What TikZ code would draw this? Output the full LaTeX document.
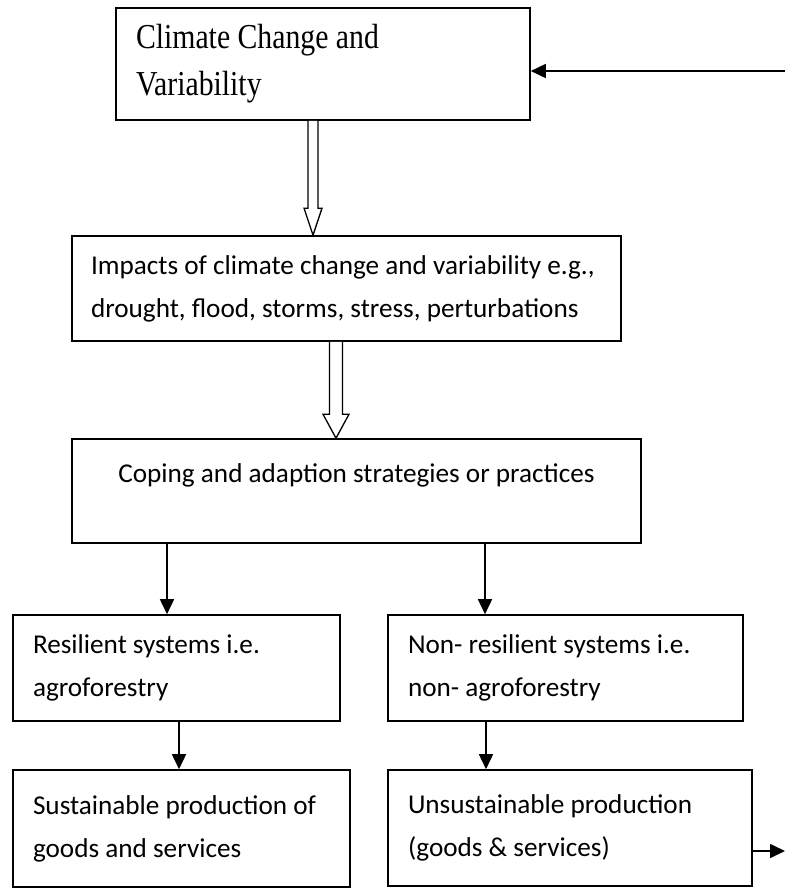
\documentclass[tikz,border=0pt]{standalone}
\usepackage{fontspec}
\setmainfont{Carlito}
\newfontfamily\climfont[FakeStretch=0.85]{Liberation Serif}
\usetikzlibrary{arrows.meta,calc}

\begin{document}
\begin{tikzpicture}[x=1pt,y=-1pt,line width=1.6pt,
        box/.style={draw,rectangle,align=flush left,inner xsep=20pt,inner ysep=0pt,font=\fontsize{27.2}{43}\selectfont},
        arr/.style={-{Triangle[width=14pt,length=15pt]},line width=1.6pt},
        hollow/.style={draw,line width=1.3pt,fill=white}]

      \fill[white] (0,0) rectangle (785,889);
      \useasboundingbox (0,0) rectangle (785,889);

      \node[box,font=\climfont\fontsize{35}{47}\selectfont,text width=374pt,minimum height=112pt] (1) at (323,64) {Climate Change and\\Variability};
      \node[box,inner xsep=19pt,text width=511pt,minimum height=105pt] (2) at (346.5,288.5) {Impacts of climate change and variability e.g.,\\drought, flood, storms, stress, perturbations};
      \node[box,align=flush center,text width=529pt,text height=20pt,text depth=38pt,inner ysep=23pt] (3) at (356.5,491) {Coping and adaption strategies or practices};
      \node[box,text width=287pt,minimum height=106pt] (4) at (176.5,668) {Resilient systems i.e.\\agroforestry};
      \node[box,text width=315pt,minimum height=106pt] (5) at (565.5,668) {Non- resilient systems i.e.\\non- agroforestry};
      \node[box,text width=297pt,minimum height=117pt] (6) at (181.5,828.5) {Sustainable production of\\goods and services};
      \node[box,text width=324pt,minimum height=116pt] (7) at (570,828) {Unsustainable production\\(goods \& services)};

      \coordinate (fb1) at (785,71);
      \coordinate (fb2) at (785,851);

      % hollow arrows
      \draw[hollow] let \p1=(1.south), \p2=([xshift=-33.5pt]2.north) in
        (\x2-5pt,\y1) -- (\x2-5pt,\y2+27pt) -- (\x2-9pt,\y2+27pt) -- (\p2)
        -- (\x2+9pt,\y2+27pt) -- (\x2+5pt,\y2+27pt) -- (\x2+5pt,\y1);
      \draw[hollow] let \p1=(2.south), \p2=([xshift=-20.5pt]3.north) in
        (\x2-6.5pt,\y1) -- (\x2-6.5pt,\y2+24pt) -- (\x2-13pt,\y2+24pt) -- (\p2)
        -- (\x2+13pt,\y2+24pt) -- (\x2+6.5pt,\y2+24pt) -- (\x2+6.5pt,\y1);

      \draw[arr] ([xshift=-189.5pt]3.south) -- ([xshift=-9.5pt]4.north);
      \draw[arr] ([xshift=128.5pt]3.south) -- ([xshift=-80.5pt]5.north);
      \draw[arr] ([xshift=2.5pt]4.south) -- ([xshift=-2.5pt]6.north);
      \draw[arr] ([xshift=-79.5pt]5.south) -- ([xshift=-84pt]7.north);

      % feedback ends
      \draw[arr] (fb1) -- (fb1 -| 1.east);
      \draw[arr] (fb2 -| 7.east) -- (fb2);
    \end{tikzpicture}
\end{document}
